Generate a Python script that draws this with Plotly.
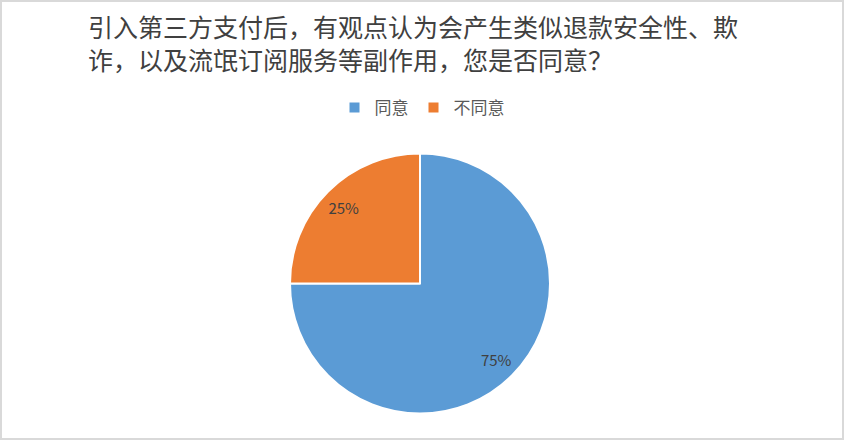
import plotly.graph_objects as go

labels = ["同意", "不同意"]
values = [75, 25]
colors = ["#5B9BD5", "#ED7D31"]

title_text = "引入第三方支付后，有观点认为会产生类似退款安全性、欺<br>诈，以及流氓订阅服务等副作用，您是否同意？"

pie_domain = dict(x=[290 / 844, 550 / 844], y=[1 - 414 / 440, 1 - 153 / 440])

fig = go.Figure()

# the filled pie
fig.add_trace(go.Pie(
    labels=labels,
    values=values,
    sort=False,
    direction="clockwise",
    rotation=0,
    marker=dict(colors=colors, line=dict(color="white", width=2)),
    textinfo="none",
    hoverinfo="label+percent",
    domain=pie_domain,
))

# transparent ring on top, only to put the percent labels near the rim
fig.add_trace(go.Pie(
    labels=labels,
    values=values,
    sort=False,
    direction="clockwise",
    rotation=0,
    hole=0.66,
    marker=dict(colors=["rgba(0,0,0,0)"] * 2, line=dict(width=0)),
    texttemplate="%{percent:.0%}",
    textposition="inside",
    insidetextorientation="horizontal",
    textfont=dict(size=15, color="#404040", family="Noto Sans CJK SC"),
    hoverinfo="skip",
    showlegend=False,
    domain=pie_domain,
))

fig.update_layout(
    width=844,
    height=440,
    margin=dict(l=0, r=0, t=0, b=0),
    paper_bgcolor="white",
    font=dict(family="Noto Sans CJK SC", color="#595959"),
    title=dict(
        text=title_text,
        x=88 / 844,
        xanchor="left",
        y=1 - 37 / 440,
        yanchor="middle",
        font=dict(size=25, color="#404040", family="Noto Sans CJK SC"),
    ),
    legend=dict(
        orientation="h",
        x=0.5,
        xanchor="center",
        y=1 - 108 / 440,
        yanchor="middle",
        font=dict(size=17, color="#595959"),
        itemwidth=30,
        traceorder="normal",
    ),
    shapes=[dict(
        type="rect", xref="paper", yref="paper",
        x0=0, x1=1, y0=0, y1=1,
        line=dict(color="#d9d9d9", width=4),
    )],
)

fig.write_html("out.html", config={"displayModeBar": False},
               post_script="document.body.style.margin='0';")
